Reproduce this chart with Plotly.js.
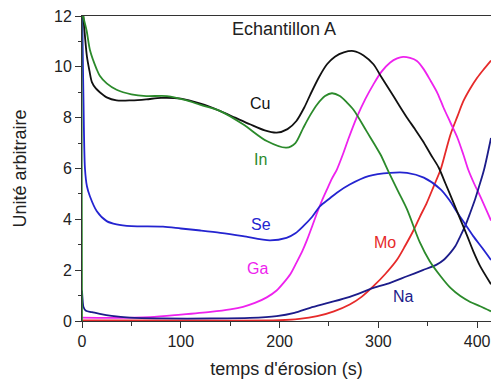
<!DOCTYPE html>
<html>
<head>
<meta charset="utf-8">
<script src="https://cdn.plot.ly/plotly-3.0.1.min.js"></script>
<style>
html,body{margin:0;padding:0;background:#fff;overflow:hidden;}
#chart{width:491px;height:381px;}
</style>
</head>
<body>
<div id="chart"></div>
<script>
// ---- data ----
const cuTime = [0, 1.3, 3, 5, 7.5, 10, 14, 18, 25, 35, 50, 65, 80, 100, 120, 140, 155, 170, 185, 197, 208, 217, 225, 231, 240, 248, 256, 265, 275, 285, 295, 303, 312, 320, 329, 337, 345, 353, 361, 368, 376, 383, 390, 396, 403, 414];
const cuValues = [12.5, 12, 11.2, 10.4, 9.85, 9.4, 9.15, 9.0, 8.8, 8.68, 8.68, 8.72, 8.78, 8.75, 8.55, 8.26, 8.0, 7.74, 7.5, 7.41, 7.55, 7.87, 8.4, 8.9, 9.6, 10.1, 10.4, 10.57, 10.62, 10.45, 10.1, 9.6, 9.05, 8.55, 8.0, 7.55, 7.08, 6.55, 6.04, 5.4, 4.66, 4.0, 3.34, 2.75, 2.16, 1.45];

const inTime = [0, 0.4, 1.3, 4.8, 8.1, 14.9, 18, 25, 35, 50, 65, 86, 106, 120, 140, 163, 187, 207, 216, 224, 231, 238, 246, 253, 261, 268, 275, 288, 302, 310, 320, 329, 342, 352, 363, 373, 383, 393, 403, 414];
const inValues = [0, 12.5, 12, 11.4, 10.65, 9.9, 9.65, 9.35, 9.1, 8.92, 8.85, 8.85, 8.68, 8.5, 8.26, 7.74, 7.08, 6.82, 7.0, 7.6, 8.1, 8.52, 8.85, 8.96, 8.85, 8.6, 8.3, 7.47, 6.56, 5.9, 5.1, 4.39, 3.09, 2.35, 1.76, 1.3, 0.98, 0.75, 0.58, 0.38];

const seTime = [0, 0.8, 1.5, 3, 5, 8, 15, 25, 35, 50, 82, 100, 120, 140, 163, 190, 207, 216, 224, 233, 241, 250, 258, 271, 290, 312, 329, 346, 363, 372, 380, 388, 396, 405, 414];
const seValues = [13, 10.5, 8.7, 6.0, 5.3, 4.91, 4.32, 3.93, 3.8, 3.73, 3.71, 3.64, 3.56, 3.47, 3.34, 3.17, 3.27, 3.45, 3.73, 4.1, 4.52, 4.8, 5.05, 5.37, 5.7, 5.83, 5.83, 5.64, 5.18, 4.75, 4.26, 3.8, 3.34, 2.88, 2.4];

const gaTime = [0, 30, 69, 100, 130, 150, 163, 175, 187, 197, 204, 211, 217, 223, 228, 233, 238, 243, 248, 253, 258, 264, 270, 278, 287, 295, 303, 312, 319, 325, 332, 339, 346, 353, 360, 366, 373, 380, 386, 391, 397, 403, 414];
const gaValues = [0.13, 0.12, 0.15, 0.25, 0.36, 0.46, 0.56, 0.71, 0.93, 1.2, 1.5, 1.85, 2.29, 2.75, 3.21, 3.73, 4.26, 4.75, 5.18, 5.6, 5.96, 6.55, 7.2, 8.0, 8.75, 9.31, 9.8, 10.17, 10.33, 10.39, 10.35, 10.23, 9.9, 9.44, 8.95, 8.39, 7.8, 7.21, 6.55, 5.95, 5.4, 4.91, 3.95];

const moTime = [0, 100, 200, 220, 238, 255, 271, 283, 295, 307, 319, 327, 336, 342, 349, 356, 363, 368, 373, 380, 386, 393, 400, 407, 414];
const moValues = [0.02, 0.02, 0.03, 0.08, 0.19, 0.38, 0.65, 0.95, 1.37, 1.85, 2.42, 2.95, 3.6, 4.1, 4.65, 5.3, 5.96, 6.65, 7.34, 8.05, 8.65, 9.15, 9.57, 9.92, 10.25];

const naTime = [0, 0.5, 1.5, 4, 10, 18, 30, 48, 82, 130, 170, 197, 215, 231, 250, 271, 295, 312, 329, 345, 359, 366, 373, 378, 383, 388, 393, 398, 402, 407, 414];
const naValues = [1.2, 0.9, 0.55, 0.4, 0.35, 0.28, 0.2, 0.13, 0.1, 0.1, 0.12, 0.19, 0.32, 0.52, 0.72, 0.95, 1.3, 1.5, 1.76, 2.0, 2.22, 2.4, 2.69, 2.95, 3.34, 3.75, 4.26, 4.8, 5.3, 5.96, 7.2];

const seriesNames = ["Cu", "In", "Se", "Ga", "Mo", "Na"];
const sampleTitle = "Echantillon A";
const xTitle = "temps d'érosion (s)";
const yTitle = "Unité arbitraire";
const xTickValues = [0, 100, 200, 300, 400];
const yTickValues = [0, 2, 4, 6, 8, 10, 12];

// ---- styling ----
const FONT = "Liberation Sans, Arial, sans-serif";
const colors = {Cu: "#111111", In: "#2b8a2b", Se: "#2424d0", Ga: "#ee22ee", Mo: "#e62a2a", Na: "#1c1c8a"};
const labelPos = {Cu: [180, 8.56], In: [181, 6.36], Se: [181, 3.8], Ga: [178, 2.07], Mo: [307, 3.09], Na: [325, 0.96]};

const seriesData = {
  Cu: [cuTime, cuValues], In: [inTime, inValues], Se: [seTime, seValues],
  Ga: [gaTime, gaValues], Mo: [moTime, moValues], Na: [naTime, naValues]
};
const drawOrder = ["Mo", "Ga", "Na", "Se", "Cu", "In"];

const traces = drawOrder.map(n => ({
  type: "scatter", mode: "lines", name: n,
  x: seriesData[n][0], y: seriesData[n][1],
  line: {color: colors[n], width: 1.8, shape: "spline", smoothing: 0.8},
  hoverinfo: "skip"
}));

const annotations = seriesNames.map(n => ({
  text: n, x: labelPos[n][0], y: labelPos[n][1], xref: "x", yref: "y",
  showarrow: false, font: {family: FONT, size: 16, color: colors[n]}
}));
annotations.push({
  text: sampleTitle, x: 204, y: 11.48, xref: "x", yref: "y", showarrow: false,
  font: {family: FONT, size: 18, color: "#222"}
});

const axisCommon = {
  showgrid: false, zeroline: false, showline: true, linecolor: "#333", linewidth: 1,
  ticks: "outside", ticklen: 6, tickcolor: "#333", tickwidth: 1,
  tickfont: {family: FONT, size: 16, color: "#222"}
};

const layout = {
  width: 491, height: 381,
  margin: {l: 82, r: 0, t: 16, b: 60, pad: 0},
  paper_bgcolor: "#fff", plot_bgcolor: "#fff",
  showlegend: false,
  xaxis: Object.assign({}, axisCommon, {
    range: [0, 414], tickvals: xTickValues, mirror: true,
    minor: {dtick: 50, tick0: 0, ticks: "outside", ticklen: 3.5, tickcolor: "#333", showgrid: false},
    title: {text: xTitle, font: {family: FONT, size: 18, color: "#222"}, standoff: 13}
  }),
  yaxis: Object.assign({}, axisCommon, {
    range: [0, 12], tickvals: yTickValues,
    minor: {dtick: 1, tick0: 0, ticks: "outside", ticklen: 3.5, tickcolor: "#333", showgrid: false},
    title: {text: yTitle, font: {family: FONT, size: 18, color: "#222"}, standoff: 22}
  }),
  annotations: annotations
};

Plotly.newPlot("chart", traces, layout, {staticPlot: true, displayModeBar: false});
</script>
</body>
</html>
